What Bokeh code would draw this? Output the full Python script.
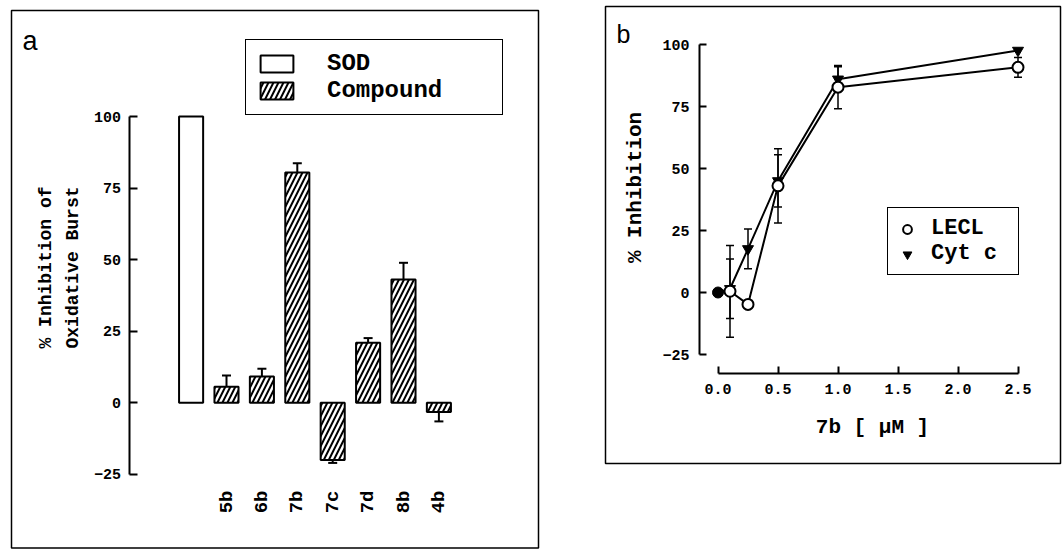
import math
from bokeh.plotting import figure
from bokeh.layouts import row
from bokeh.models import (Range1d, FixedTicker, Whisker, TeeHead, ColumnDataSource,
                          Legend, LegendItem, Label, PrintfTickFormatter, BoxAnnotation)
from bokeh.embed import file_html
from bokeh.resources import INLINE

# ---------------- data: panel a ----------------
sod_label = ["SOD"]
sod_value = [100]
compounds = ["5b", "6b", "7b", "7c", "7d", "8b", "4b"]
compound_values = [5.6, 9.2, 80.4, -20.0, 21.0, 43.1, -3.2]
compound_errors = [3.9, 2.7, 3.3, 1.0, 1.6, 5.8, 3.3]
a_yticks = [-25, 0, 25, 50, 75, 100]

# ---------------- data: panel b ----------------
conc = [0.0, 0.1, 0.25, 0.5, 1.0, 2.5]
lecl = [0.0, 0.5, -4.8, 43.0, 82.8, 90.8]
lecl_err = [0.0, 18.5, 0.0, 15.0, 8.7, 4.0]
cytc = [0.0, 1.5, 17.6, 45.0, 86.0, 97.6]
cytc_err = [0.0, 12.0, 8.0, 10.5, 5.0, 0.0]
control_x = [0.0]
control_y = [0.0]
b_xticks = [0.0, 0.5, 1.0, 1.5, 2.0, 2.5]
b_yticks = [-25, 0, 25, 50, 75, 100]

FONT = "Liberation Mono"
SANS = "Liberation Sans"
W1, W2, H = 570, 494, 549


def style_axis(ax, size="15px"):
    ax.minor_tick_line_color = None
    ax.major_label_text_font = FONT
    ax.major_label_text_font_style = "bold"
    ax.major_label_text_font_size = size
    ax.major_label_text_color = "black"
    ax.axis_line_color = "black"
    ax.major_tick_line_color = "black"


# ---------------- panel a ----------------
# layout mapping (canvas pixel -> data) used for placing the frame and annotations
def pa_x(px):
    return (px - 190.6) / 35.4


def pa_y(py):
    return (402.3 - py) / 2.863


p1 = figure(width=W1, height=H, output_backend="svg", toolbar_location=None,
            x_range=Range1d(pa_x(0), pa_x(W1)), y_range=Range1d(pa_y(H), pa_y(0)),
            min_border=0)
p1.outline_line_color = None
p1.grid.visible = False
p1.background_fill_color = "white"
p1.border_fill_color = "white"
p1.add_layout(BoxAnnotation(left=pa_x(11), right=pa_x(538), bottom=pa_y(547.5), top=pa_y(10),
                            fill_color=None, line_color="black", line_width=1.5, line_alpha=1.0))

sod_x = list(range(len(sod_label)))
comp_x = [i + len(sod_label) for i in range(len(compounds))]

sod_src = ColumnDataSource(dict(x=sod_x, top=sod_value, name=sod_label))
comp_src = ColumnDataSource(dict(x=comp_x, top=compound_values, name=compounds,
                                 errend=[v + (e if v >= 0 else -e)
                                         for v, e in zip(compound_values, compound_errors)]))

p1.add_layout(Whisker(source=comp_src, base="x", lower="top", upper="errend", dimension="height",
                      line_width=2, line_color="black",
                      upper_head=TeeHead(size=9, line_width=2, line_color="black"),
                      lower_head=None))

r_sod = p1.vbar(x="x", top="top", bottom=0, width=0.68, source=sod_src,
                fill_color="white", line_color="black", line_width=2)
r_comp = p1.vbar(x="x", top="top", bottom=0, width=0.68, source=comp_src,
                 fill_color="white", line_color="black", line_width=2,
                 hatch_pattern="/", hatch_color="black", hatch_scale=10, hatch_weight=2)

ya = p1.yaxis[0]
style_axis(ya)
ya.fixed_location = pa_x(128.5)
ya.bounds = (-25, 100)
ya.ticker = FixedTicker(ticks=a_yticks)
ya.major_tick_in = 8
ya.major_tick_out = 0
ya.major_tick_line_width = 2
ya.axis_line_width = 2
ya.major_label_standoff = 8

xa = p1.xaxis[0]
style_axis(xa, "19px")
xa.fixed_location = pa_y(481)
xa.ticker = FixedTicker(ticks=comp_x)
xa.major_label_overrides = {x: n for x, n in zip(comp_x, compounds)}
xa.major_label_orientation = math.pi / 2
xa.axis_line_color = None
xa.major_tick_line_color = None
xa.major_label_standoff = 3

for txt, px in [("% Inhibition of", 45.5), ("Oxidative Burst", 72)]:
    p1.add_layout(Label(x=pa_x(px), y=pa_y(267), text=txt, angle=math.pi / 2,
                        text_align="center", text_baseline="middle", text_color="black",
                        text_font=FONT, text_font_style="bold", text_font_size="18px"))

p1.add_layout(Label(x=pa_x(22), y=pa_y(40), text="a", text_align="left",
                    text_baseline="alphabetic", text_color="black",
                    text_font=SANS, text_font_size="27px"))

leg_a = Legend(items=[LegendItem(label="SOD", renderers=[r_sod]),
                      LegendItem(label="Compound", renderers=[r_comp])],
               location=(245, 434), padding=10, spacing=0,
               glyph_width=41, glyph_height=21, label_standoff=30, label_width=165,
               label_text_font=FONT, label_text_font_style="bold", label_text_font_size="24px",
               label_text_color="black",
               border_line_color="black", border_line_width=1.5, border_line_alpha=1.0,
               background_fill_alpha=1.0)
p1.add_layout(leg_a, "center")


# ---------------- panel b ----------------
def pb_x(px):
    return (px - 717.5) / 120.0


def pb_y(py):
    return (292.0 - py) / 2.48


p2 = figure(width=W2, height=H, output_backend="svg", toolbar_location=None,
            x_range=Range1d(pb_x(W1), pb_x(W1 + W2)), y_range=Range1d(pb_y(H), pb_y(0)),
            min_border=0)
p2.outline_line_color = None
p2.grid.visible = False
p2.background_fill_color = "white"
p2.border_fill_color = "white"
p2.add_layout(BoxAnnotation(left=pb_x(605), right=pb_x(1060), bottom=pb_y(463), top=pb_y(6),
                            fill_color=None, line_color="black", line_width=1.5, line_alpha=1.0))

p2.line(conc, lecl, line_color="black", line_width=2)
p2.line(conc, cytc, line_color="black", line_width=2)

for ys, es in [(lecl, lecl_err), (cytc, cytc_err)]:
    pts = [(x, y, e) for x, y, e in zip(conc, ys, es) if e > 0]
    src = ColumnDataSource(dict(x=[p[0] for p in pts],
                                lo=[p[1] - p[2] for p in pts],
                                hi=[p[1] + p[2] for p in pts]))
    p2.add_layout(Whisker(source=src, base="x", lower="lo", upper="hi", dimension="height",
                          line_width=1.5, line_color="black",
                          upper_head=TeeHead(size=8, line_width=1.5, line_color="black"),
                          lower_head=TeeHead(size=8, line_width=1.5, line_color="black")))

r_cyt = p2.scatter(conc[1:], cytc[1:], marker="inverted_triangle", size=11,
                   fill_color="black", line_color="black", line_width=1)
r_lecl = p2.scatter(conc[1:], lecl[1:], marker="circle", size=11,
                    fill_color="white", line_color="black", line_width=2)
p2.scatter(control_x, control_y, marker="circle", size=11, fill_color="black", line_color="black")

yb = p2.yaxis[0]
style_axis(yb)
yb.fixed_location = pb_x(699)
yb.bounds = (-25, 100)
yb.ticker = FixedTicker(ticks=b_yticks)
yb.major_tick_in = 7
yb.major_tick_out = 0
yb.major_tick_line_width = 2
yb.axis_line_width = 2
yb.major_label_standoff = 10

xb = p2.xaxis[0]
style_axis(xb)
xb.fixed_location = pb_y(373)
xb.bounds = (0, 2.5)
xb.ticker = FixedTicker(ticks=b_xticks)
xb.formatter = PrintfTickFormatter(format="%.1f")
xb.major_tick_in = 7
xb.major_tick_out = 0
xb.major_tick_line_width = 2
xb.axis_line_width = 2
xb.major_label_standoff = 10

p2.add_layout(Label(x=pb_x(635), y=pb_y(187), text="% Inhibition", angle=math.pi / 2,
                    text_align="center", text_baseline="middle", text_color="black",
                    text_font=FONT, text_font_style="bold", text_font_size="21px"))
p2.add_layout(Label(x=pb_x(872), y=pb_y(427), text="7b [ μM ]",
                    text_align="center", text_baseline="middle", text_color="black",
                    text_font=FONT, text_font_style="bold", text_font_size="21px"))
p2.add_layout(Label(x=pb_x(616), y=pb_y(33), text="b", text_align="left",
                    text_baseline="alphabetic", text_color="black",
                    text_font=SANS, text_font_size="25px"))

leg_b = Legend(items=[LegendItem(label="LECL", renderers=[r_lecl]),
                      LegendItem(label="Cyt c", renderers=[r_cyt])],
               location=(317, 274), padding=8, spacing=0,
               glyph_width=22, glyph_height=22, label_standoff=13, label_width=79,
               label_text_font=FONT, label_text_font_style="bold", label_text_font_size="22px",
               label_text_color="black",
               border_line_color="black", border_line_width=1.5, border_line_alpha=1.0,
               background_fill_alpha=1.0)
p2.add_layout(leg_b, "center")

layout = row(p1, p2, spacing=0)
open("out.html", "w").write(file_html(layout, INLINE))
